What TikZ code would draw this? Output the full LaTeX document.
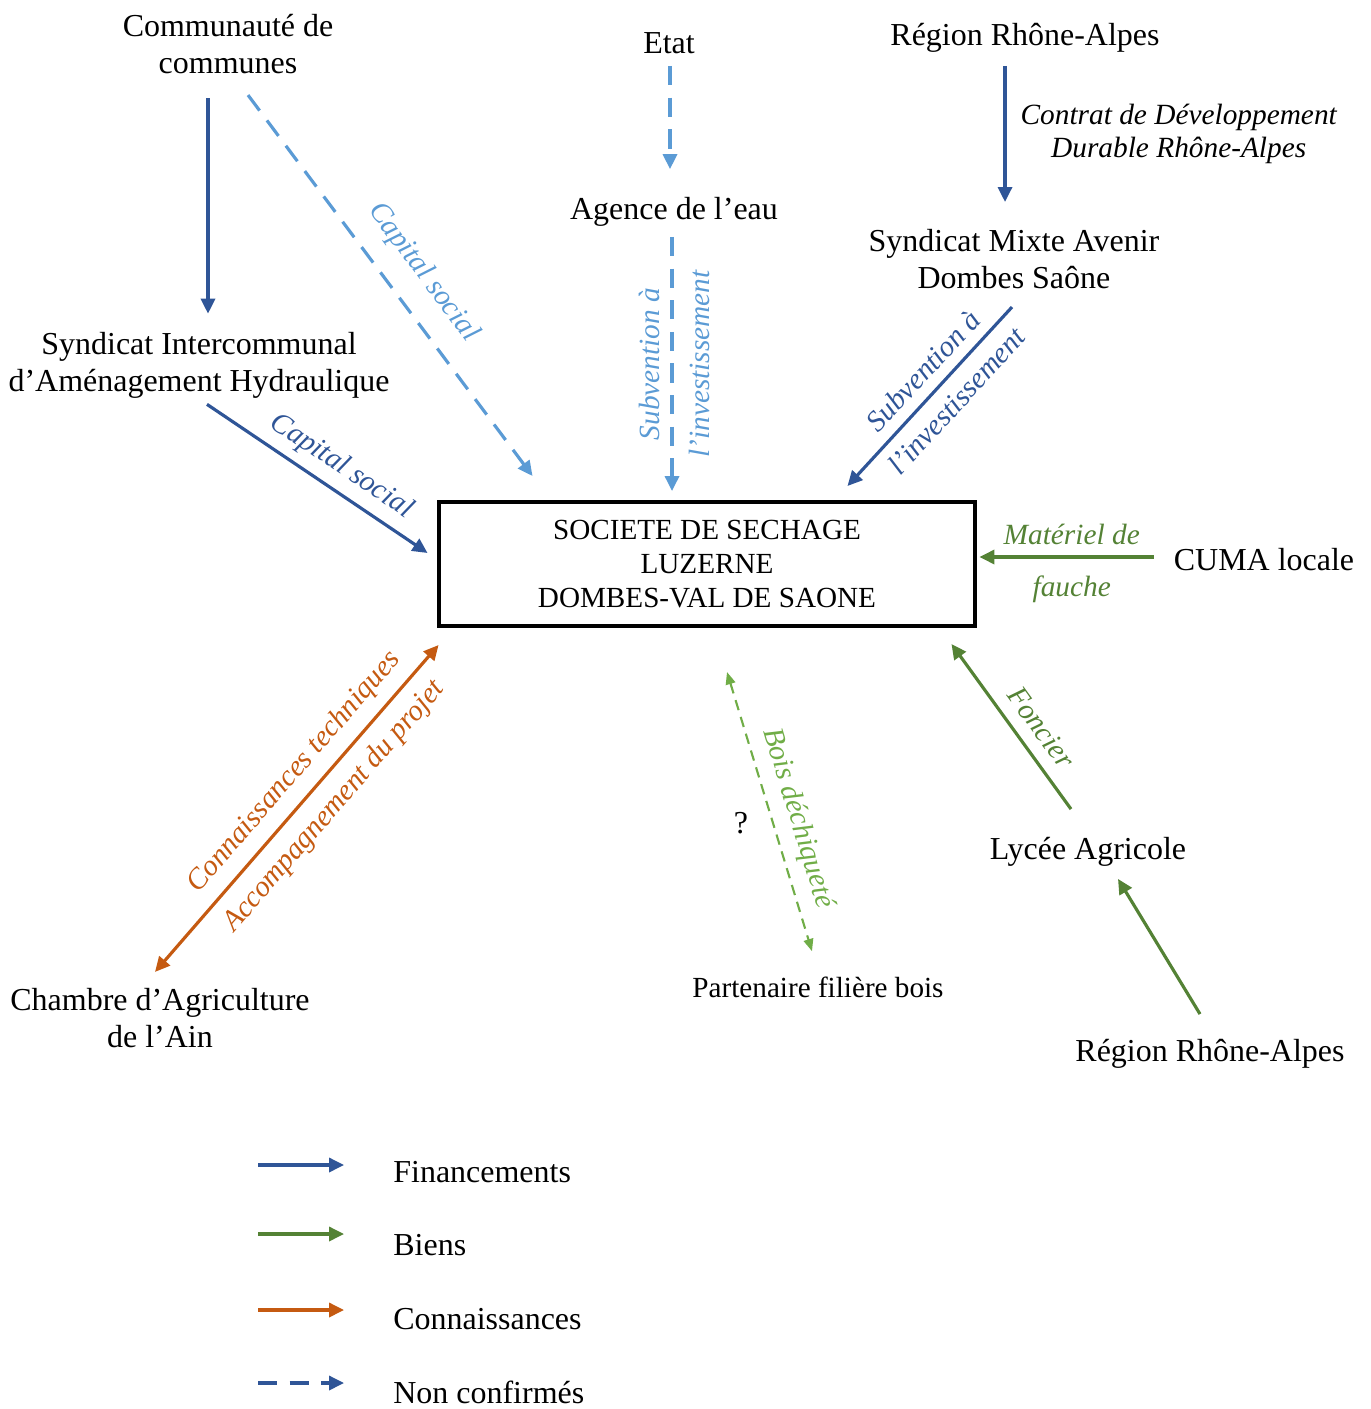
\documentclass[tikz,border=0pt]{standalone}
\usepackage{fontspec}
\setmainfont{Liberation Serif}
\usetikzlibrary{arrows.meta, calc}
\definecolor{finblue}{RGB}{47,85,151}
\definecolor{lightblue}{RGB}{91,155,213}
\definecolor{biengreen}{RGB}{84,130,53}
\definecolor{boisgreen}{RGB}{112,173,71}
\definecolor{connorange}{RGB}{197,90,17}

\begin{document}
\begin{tikzpicture}[x=0.02cm, y=-0.02cm,
	>={Triangle[length=8.5pt,width=8pt]},
	ent/.style={inner sep=0pt, align=center, font=\fontsize{18.2}{21}\selectfont},
	lab/.style={font=\fontsize{16.7}{19.3}\selectfont\itshape, sloped, inner sep=3pt, align=center},
	vlab/.style={font=\fontsize{16.7}{19.3}\selectfont\itshape, rotate=90, inner sep=3pt},
	legtxt/.style={inner sep=0pt, anchor=west, font=\fontsize{18.2}{21}\selectfont},
	fin/.style={->, finblue, line width=1.8pt},
	bien/.style={->, biengreen, line width=1.8pt},
	conn/.style={<->, connorange, line width=1.8pt},
	nonconf/.style={dash pattern=on 11pt off 7pt}]
\useasboundingbox (0,0) rectangle (1371,1409);

%========================
% Actors
%========================
\node[ent] (comcom) at (228,44) {Communauté de\\communes};
\node[ent] (etat) at (669,43) {Etat};
\node[ent] (reg1) at (1025,38) {Région Rhône-Alpes};
\node[ent] (agence) at (674,212) {Agence de l’eau};
\node[ent] (smads) at (1014,259) {Syndicat Mixte Avenir\\Dombes Saône};
\node[ent] (siah) at (199,365) {Syndicat Intercommunal\\d’Aménagement Hydraulique};
\node[ent] (cuma) at (1264,560) {CUMA locale};
\node[ent] (chambre) at (160,1018) {Chambre d’Agriculture\\de l’Ain};
\node[ent, font=\fontsize{16.6}{19}\selectfont] (part) at (818,987) {Partenaire filière bois};
\node[ent] (quest) at (741,823) {?};
\node[ent] (lycee) at (1088,852) {Lycée Agricole};
\node[ent] (reg2) at (1210,1054) {Région Rhône-Alpes};

% central company
\node[draw, line width=2.3pt, minimum width=10.74cm, minimum height=2.48cm, align=center,
	font=\fontsize{16.6}{19.3}\selectfont] (box) at (707,564)
	{SOCIETE DE SECHAGE\\LUZERNE\\DOMBES-VAL DE SAONE};

%========================
% Financements
%========================
\draw[fin] ([shift={(-20,24)}]comcom.south) -- ([shift={(9,-18)}]siah.north);
\draw[fin, lightblue, nonconf] ([shift={(20,21)}]comcom.south) -- ([shift={(96,-24)}]box.north west)
	node[lab, pos=0.52, above=8pt] {Capital social};
\draw[fin, lightblue, nonconf] ([shift={(1,12)}]etat.south) -- ([shift={(-4,-28)}]agence.north);
\draw[fin, lightblue, nonconf] ([shift={(-2,10)}]agence.south) -- ([shift={(-35,-9)}]box.north)
	node[vlab, midway, above=3pt] {Subvention à}
	node[vlab, midway, below=6pt] {l’investissement};
\draw[fin] ([shift={(-20,13)}]reg1.south) -- ([shift={(-9,-27)}]smads.north)
	node[midway, right=5pt, inner sep=3pt, align=center, text=black,
	font=\fontsize{16.7}{19.3}\selectfont\itshape] {Contrat de Développement\\Durable Rhône-Alpes};
\draw[fin] ([shift={(-2,18)}]smads.south) -- ([shift={(-130,-14)}]box.north east)
	node[lab, pos=0.44, above=3pt] {Subvention à}
	node[lab, pos=0.44, below=3pt] {l’investissement};
\draw[fin] ([shift={(8,6)}]siah.south) -- ([shift={(-9,-11)}]box.west)
	node[lab, pos=0.55, above=2pt] {Capital social};

%========================
% Biens
%========================
\draw[bien] ([shift={(-20,-3)}]cuma.west) -- ([shift={(2,-7)}]box.east)
	node[lab, biengreen, pos=0.47, above=3pt] {Matériel de}
	node[lab, biengreen, pos=0.47, below=7pt] {fauche};
\draw[bien] ([shift={(-17,-28)}]lycee.north) -- ([shift={(-26,16)}]box.south east)
	node[lab, biengreen, pos=0.41, above=4pt] {Foncier};
\draw[bien] ([shift={(-10,-25)}]reg2.north) -- ([shift={(30,12)}]lycee.south);
\draw[{Triangle[length=7pt,width=5.5pt]}-{Triangle[length=7pt,width=5.5pt]}, boisgreen,
	line width=1.2pt, dash pattern=on 6pt off 4pt]
	([shift={(20,44)}]box.south) -- ([shift={(-6,-25)}]part.north)
	node[lab, boisgreen, pos=0.55, above=3pt] {Bois déchiqueté};

%========================
% Connaissances
%========================
\draw[conn] ([shift={(2,17)}]box.south west) -- ([shift={(-5,-16)}]chambre.north)
	node[lab, connorange, pos=0.44, above=3pt] {Connaissances techniques}
	node[lab, connorange, pos=0.44, below=4pt] {Accompagnement du projet};

%========================
% Legend
%========================
\node[legtxt] (legfin) at (393,1172) {Financements};
\node[legtxt] (legbien) at (393,1245) {Biens};
\node[legtxt] (legconn) at (393,1319) {Connaissances};
\node[legtxt] (legnon) at (393,1392) {Non confirmés};
\draw[fin] ([shift={(-135,-7)}]legfin.west) -- ([shift={(-49,-7)}]legfin.west);
\draw[bien] ([shift={(-135,-11)}]legbien.west) -- ([shift={(-49,-11)}]legbien.west);
\draw[->, connorange, line width=1.8pt] ([shift={(-135,-9)}]legconn.west) -- ([shift={(-49,-9)}]legconn.west);
\draw[fin, nonconf] ([shift={(-135,-9)}]legnon.west) -- ([shift={(-49,-9)}]legnon.west);
\end{tikzpicture}
\end{document}
